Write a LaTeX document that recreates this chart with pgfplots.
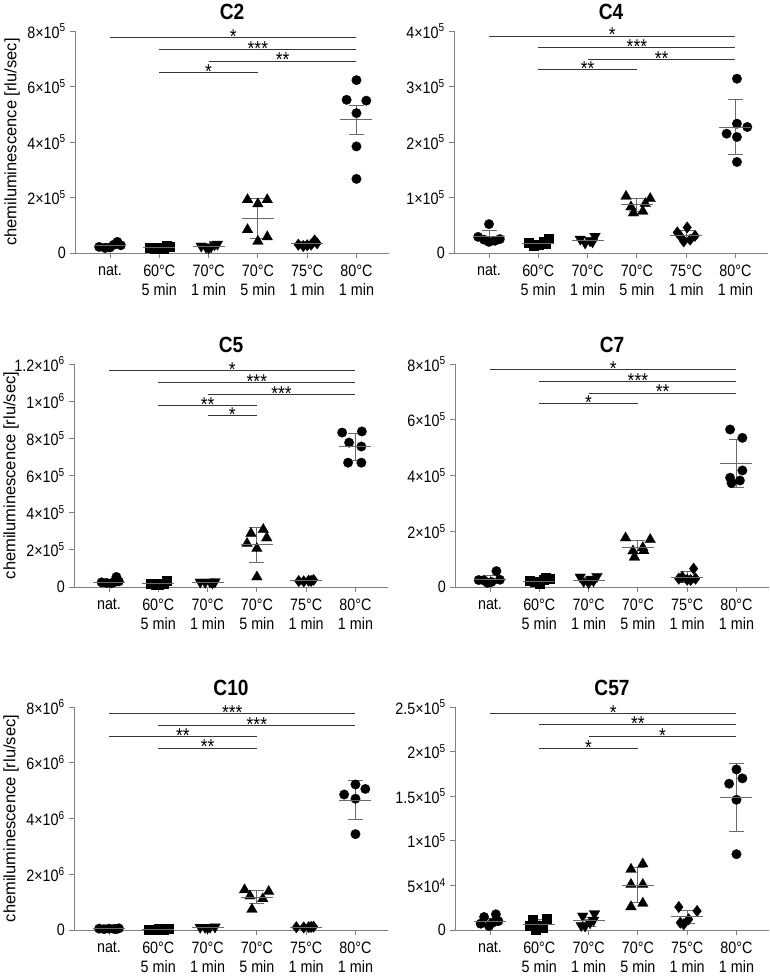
\documentclass[border=0pt]{standalone}
\usepackage{fontspec}
\setmainfont{Liberation Sans}[FakeStretch=0.87]
\newfontfamily\ylabfont{Liberation Sans}
\usepackage{pgfplots}
\pgfplotsset{compat=1.18}
\definecolor{axgray}{RGB}{128,128,128}
\definecolor{msgray}{RGB}{105,105,105}
\definecolor{sigc}{RGB}{55,55,55}
\newcommand{\lab}{\fontsize{16.5}{18.5}\selectfont}
\newcommand{\tn}[2]{#1×10\textsuperscript{#2}}
\newcommand{\sig}[5]{\addplot[sigl] coordinates {(#1,#4) (#2,#4)}; \node[sigs] at (axis cs:#3,#4) {#5};}
\tikzset{sigs/.style={font=\fontsize{20}{20}\selectfont, anchor=base, yshift=-6pt, inner sep=0pt, text=black}}
\pgfplotsset{
  base/.style={
    scale only axis, width=314pt, height=222pt,
    xmin=-0.71, xmax=5.66, ymin=0,
    axis lines=left, axis line style={-, axgray, line width=0.9pt},
    tick style={axgray, line width=0.9pt},
    tick align=outside, major tick length=5pt,
    xtick={0,1,2,3,4,5},
    xticklabels={nat., {60°C\\5 min}, {70°C\\1 min}, {70°C\\5 min}, {75°C\\1 min}, {80°C\\1 min}},
    xticklabel style={align=center, font=\lab, anchor=north, inner sep=0pt, yshift=-7pt},
    yticklabel style={font=\lab, inner sep=0pt, xshift=-4pt},
    scaled y ticks=false,
    title style={font=\bfseries\fontsize{22}{26}\selectfont, at={(0.5,1)}, anchor=base, yshift=5pt},
    ylabel style={font=\ylabfont\fontsize{16.5}{18}\selectfont, at={(axis description cs:-0.2,0.5)}, anchor=center},
    clip=false,
  },
  cpt/.style={only marks, mark=*, mark size=4.8pt, mark options={draw=black, fill=black, line width=0.2pt}},
  spt/.style={only marks, mark=square*, mark size=4.5pt, mark options={draw=black, fill=black, line width=0.2pt}},
  tpt/.style={only marks, mark=triangle*, mark size=6.2pt, mark options={draw=black, fill=black, line width=0.2pt}},
  ipt/.style={only marks, mark=triangle*, mark size=6.2pt, mark options={draw=black, fill=black, line width=0.2pt, rotate=180}},
  dpt/.style={only marks, mark=diamond*, mark size=5.8pt, mark options={draw=black, fill=black, line width=0.2pt}},
  msd/.style={only marks, mark=-, mark size=16pt, color=msgray, mark options={line width=0.9pt, color=msgray},
    error bars/.cd, y dir=both, y explicit, error bar style={msgray, line width=0.9pt},
    error mark=|, error mark options={msgray, mark size=7.5pt, line width=0.9pt}},
  sigl/.style={sigc, line width=0.9pt},
}
\begin{document}
\begin{tikzpicture}
\useasboundingbox (0,0) rectangle (769pt,976pt);
% ---------------- C2
\begin{axis}[base, at={(75pt,723pt)}, anchor=south west, ymax=8e5,
  ytick={0,2e5,4e5,6e5,8e5}, yticklabels={0,\tn{2}{5},\tn{4}{5},\tn{6}{5},\tn{8}{5}},
  title={C2}, ylabel={chemiluminescence [rlu/sec]}]
\addplot[cpt] coordinates {(-0.22,0.22e5) (-0.1,0.18e5) (0,0.2e5) (0.08,0.3e5) (0.15,0.4e5) (0.22,0.28e5)};
\addplot[spt] coordinates {(0.8,0.2e5) (0.9,0.15e5) (1,0.2e5) (1.08,0.17e5) (1.15,0.25e5) (1.2,0.22e5)};
\addplot[ipt] coordinates {(1.85,0.25e5) (1.95,0.2e5) (2.05,0.22e5) (2.12,0.3e5) (2.18,0.32e5) (2,0.18e5)};
\addplot[tpt] coordinates {(2.79,1.92e5) (3.19,1.92e5) (3,1.77e5) (2.79,0.84e5) (3.19,0.58e5) (3,0.42e5)};
\addplot[dpt] coordinates {(3.82,0.3e5) (3.92,0.25e5) (4,0.28e5) (4.08,0.3e5) (4.15,0.45e5) (4.2,0.35e5)};
\addplot[cpt] coordinates {(5,6.23e5) (4.8,5.52e5) (5.2,5.49e5) (5,5.04e5) (5,3.84e5) (5,2.67e5)};
\addplot[msd] table[row sep=\\, x=x, y=m, y error plus expr=\thisrow{h}-\thisrow{m}, y error minus expr=\thisrow{m}-\thisrow{l}]
 {x m h l\\ 0 0.26e5 0.34e5 0.18e5\\ 1 0.2e5 0.24e5 0.16e5\\ 2 0.24e5 0.29e5 0.19e5\\ 3 1.26e5 1.95e5 0.54e5\\ 4 0.33e5 0.4e5 0.26e5\\ 5 4.8e5 5.3e5 4.28e5\\};
\sig{0}{5}{2.5}{7.76e5}{*}
\sig{1}{5}{3}{7.35e5}{***}
\sig{2}{5}{3.5}{6.92e5}{**}
\sig{1}{3}{2}{6.5e5}{*}
\end{axis}
% ---------------- C4
\begin{axis}[base, at={(454pt,723pt)}, anchor=south west, ymax=4e5,
  ytick={0,1e5,2e5,3e5,4e5}, yticklabels={0,\tn{1}{5},\tn{2}{5},\tn{3}{5},\tn{4}{5}},
  title={C4}]
\addplot[cpt] coordinates {(0,0.52e5) (-0.22,0.29e5) (-0.1,0.24e5) (0,0.2e5) (0.12,0.22e5) (0.22,0.25e5)};
\addplot[spt] coordinates {(0.8,0.18e5) (0.9,0.13e5) (1,0.15e5) (1.1,0.2e5) (1.2,0.26e5) (1.15,0.17e5)};
\addplot[ipt] coordinates {(1.85,0.25e5) (1.95,0.18e5) (2.05,0.22e5) (2.15,0.3e5) (2.1,0.2e5)};
\addplot[tpt] coordinates {(2.78,1.02e5) (3.27,0.98e5) (3.17,0.89e5) (2.88,0.83e5) (3.12,0.75e5) (2.93,0.72e5)};
\addplot[dpt] coordinates {(4.02,0.46e5) (3.82,0.37e5) (4.18,0.31e5) (3.95,0.21e5) (4.08,0.24e5) (3.9,0.28e5)};
\addplot[cpt] coordinates {(5.03,3.14e5) (5.03,2.33e5) (5.24,2.27e5) (4.82,2.15e5) (5.03,2.09e5) (5.03,1.64e5)};
\addplot[msd] table[row sep=\\, x=x, y=m, y error plus expr=\thisrow{h}-\thisrow{m}, y error minus expr=\thisrow{m}-\thisrow{l}]
 {x m h l\\ 0 0.29e5 0.41e5 0.17e5\\ 1 0.18e5 0.23e5 0.13e5\\ 2 0.23e5 0.28e5 0.18e5\\ 3 0.87e5 0.98e5 0.75e5\\ 4 0.31e5 0.4e5 0.22e5\\ 5 2.27e5 2.77e5 1.77e5\\};
\sig{0}{5}{2.5}{3.91e5}{*}
\sig{1}{5}{3}{3.70e5}{***}
\sig{2}{5}{3.5}{3.49e5}{**}
\sig{1}{3}{2}{3.30e5}{**}
\end{axis}
% ---------------- C5
\begin{axis}[base, at={(74pt,389pt)}, anchor=south west, height=223pt, ymax=1.2e6,
  ytick={0,2e5,4e5,6e5,8e5,1e6,1.2e6}, yticklabels={0,\tn{2}{5},\tn{4}{5},\tn{6}{5},\tn{8}{5},\tn{1}{6},\tn{1.2}{6}},
  title={C5}, ylabel={chemiluminescence [rlu/sec]}]
\addplot[cpt] coordinates {(-0.15,0.25e5) (-0.05,0.22e5) (0.05,0.2e5) (0.1,0.25e5) (0.15,0.54e5) (0.2,0.3e5)};
\addplot[spt] coordinates {(0.85,0.18e5) (0.95,0.15e5) (1.05,0.2e5) (1.1,0.18e5) (1.17,0.36e5) (1,0.12e5)};
\addplot[ipt] coordinates {(1.85,0.27e5) (1.95,0.25e5) (2.05,0.27e5) (2.15,0.28e5) (2.1,0.22e5)};
\addplot[tpt] coordinates {(3.13,3.09e5) (2.88,2.88e5) (3.2,2.64e5) (2.8,2.34e5) (3,2.07e5) (3,0.54e5)};
\addplot[dpt] coordinates {(3.85,0.32e5) (3.95,0.3e5) (4.05,0.34e5) (4.15,0.38e5) (4.1,0.33e5)};
\addplot[cpt] coordinates {(4.73,8.31e5) (5.13,8.37e5) (4.87,7.77e5) (5.12,7.56e5) (4.85,6.69e5) (5.12,6.69e5)};
\addplot[msd] table[row sep=\\, x=x, y=m, y error plus expr=\thisrow{h}-\thisrow{m}, y error minus expr=\thisrow{m}-\thisrow{l}]
 {x m h l\\ 0 0.27e5 0.32e5 0.22e5\\ 1 0.2e5 0.26e5 0.14e5\\ 2 0.25e5 0.28e5 0.22e5\\ 3 2.28e5 3.2e5 1.31e5\\ 4 0.34e5 0.37e5 0.31e5\\ 5 7.56e5 8.28e5 6.8e5\\};
\sig{0}{5}{2.5}{11.66e5}{*}
\sig{1}{5}{3}{11.03e5}{***}
\sig{2}{5}{3.5}{10.38e5}{***}
\sig{1}{3}{2}{9.77e5}{**}
\sig{2}{3}{2.5}{9.21e5}{*}
\end{axis}
% ---------------- C7
\begin{axis}[base, at={(455pt,389pt)}, anchor=south west, height=223pt, ymax=8e5,
  ytick={0,2e5,4e5,6e5,8e5}, yticklabels={0,\tn{2}{5},\tn{4}{5},\tn{6}{5},\tn{8}{5}},
  title={C7}]
\addplot[cpt] coordinates {(0.13,0.57e5) (-0.13,0.24e5) (0.03,0.18e5) (0.2,0.26e5) (-0.23,0.25e5) (-0.05,0.15e5)};
\addplot[spt] coordinates {(1.13,0.32e5) (0.8,0.24e5) (1,0.12e5) (0.9,0.18e5) (1.08,0.28e5) (1.2,0.3e5)};
\addplot[ipt] coordinates {(1.83,0.36e5) (2.17,0.38e5) (1.9,0.2e5) (2,0.15e5) (2.1,0.22e5) (2.05,0.28e5)};
\addplot[tpt] coordinates {(2.75,1.76e5) (3.25,1.70e5) (3.1,1.41e5) (2.9,1.29e5) (3.12,1.3e5) (2.93,1.07e5)};
\addplot[dpt] coordinates {(4.13,0.66e5) (3.9,0.36e5) (4,0.26e5) (4.17,0.3e5) (3.83,0.3e5) (4.07,0.25e5)};
\addplot[cpt] coordinates {(4.87,5.65e5) (5.12,5.35e5) (5.12,4.18e5) (4.87,3.92e5) (5.07,3.82e5) (4.9,3.73e5)};
\addplot[msd] table[row sep=\\, x=x, y=m, y error plus expr=\thisrow{h}-\thisrow{m}, y error minus expr=\thisrow{m}-\thisrow{l}]
 {x m h l\\ 0 0.26e5 0.41e5 0.11e5\\ 1 0.2e5 0.3e5 0.1e5\\ 2 0.24e5 0.34e5 0.14e5\\ 3 1.43e5 1.67e5 1.19e5\\ 4 0.36e5 0.54e5 0.18e5\\ 5 4.42e5 5.28e5 3.58e5\\};
\sig{0}{5}{2.5}{7.80e5}{*}
\sig{1}{5}{3}{7.38e5}{***}
\sig{2}{5}{3.5}{6.96e5}{**}
\sig{1}{3}{2}{6.57e5}{*}
\end{axis}
% ---------------- C10
\begin{axis}[base, at={(74pt,46pt)}, anchor=south west, height=223pt, ymax=8e6,
  ytick={0,2e6,4e6,6e6,8e6}, yticklabels={0,\tn{2}{6},\tn{4}{6},\tn{6}{6},\tn{8}{6}},
  title={C10}, ylabel={chemiluminescence [rlu/sec]}]
\addplot[cpt] coordinates {(-0.2,0.05e6) (-0.1,0.03e6) (0,0.05e6) (0.1,0.04e6) (0.2,0.06e6) (0.15,0.03e6)};
\addplot[spt] coordinates {(0.8,0.03e6) (0.9,0.02e6) (1,0.04e6) (1.1,0.03e6) (1.2,0.05e6) (1.05,0.01e6)};
\addplot[ipt] coordinates {(1.85,0.1e6) (1.95,0.09e6) (2.05,0.1e6) (2.15,0.11e6) (2,0.08e6)};
\addplot[tpt] coordinates {(2.75,1.44e6) (3.24,1.38e6) (2.86,1.22e6) (3.12,1.12e6) (2.9,0.74e6)};
\addplot[dpt] coordinates {(3.8,0.1e6) (3.95,0.09e6) (4.05,0.1e6) (4.15,0.12e6) (4.1,0.11e6)};
\addplot[cpt] coordinates {(5,5.22e6) (5.2,5.06e6) (4.77,4.86e6) (5,4.71e6) (5,3.44e6)};
\addplot[msd] table[row sep=\\, x=x, y=m, y error plus expr=\thisrow{h}-\thisrow{m}, y error minus expr=\thisrow{m}-\thisrow{l}]
 {x m h l\\ 0 0.05e6 0.06e6 0.04e6\\ 1 0.03e6 0.04e6 0.02e6\\ 2 0.1e6 0.11e6 0.09e6\\ 3 1.18e6 1.41e6 0.94e6\\ 4 0.1e6 0.11e6 0.09e6\\ 5 4.65e6 5.36e6 3.96e6\\};
\sig{0}{5}{2.5}{7.77e6}{***}
\sig{1}{5}{3}{7.35e6}{***}
\sig{0}{3}{1.5}{6.94e6}{**}
\sig{1}{3}{2}{6.53e6}{**}
\end{axis}
% ---------------- C57
\begin{axis}[base, at={(455pt,46pt)}, anchor=south west, height=223pt, ymax=2.5e5,
  ytick={0,5e4,1e5,1.5e5,2e5,2.5e5}, yticklabels={0,\tn{5}{4},\tn{1}{5},\tn{1.5}{5},\tn{2}{5},\tn{2.5}{5}},
  title={C57}]
\addplot[cpt] coordinates {(-0.12,1.46e4) (0.12,1.76e4) (-0.19,0.71e4) (-0.02,0.45e4) (0.17,1.0e4) (0.05,0.82e4)};
\addplot[spt] coordinates {(0.86,1.2e4) (1.14,1.3e4) (0.8,0.5e4) (0.93,0.07e4) (1.07,0.3e4) (1,0.5e4)};
\addplot[ipt] coordinates {(1.88,1.57e4) (2.12,1.83e4) (1.93,0.45e4) (2.03,0.82e4) (2.1,1.1e4) (1.85,0.5e4)};
\addplot[tpt] coordinates {(2.86,6.8e4) (3.1,7.4e4) (2.86,5.1e4) (3.1,5.1e4) (2.86,2.6e4) (3.1,3.0e4)};
\addplot[dpt] coordinates {(3.83,2.58e4) (4.2,2.13e4) (3.86,0.82e4) (4.03,1.2e4) (3.93,0.64e4)};
\addplot[cpt] coordinates {(5,18.0e4) (5.12,17.0e4) (4.85,16.4e4) (5,14.6e4) (5,8.5e4)};
\addplot[msd] table[row sep=\\, x=x, y=m, y error plus expr=\thisrow{h}-\thisrow{m}, y error minus expr=\thisrow{m}-\thisrow{l}]
 {x m h l\\ 0 0.93e4 1.35e4 0.5e4\\ 1 0.64e4 1.14e4 0.14e4\\ 2 1.05e4 1.46e4 0.45e4\\ 3 5.0e4 7.0e4 3.1e4\\ 4 1.47e4 2.2e4 0.7e4\\ 5 14.9e4 18.7e4 11.1e4\\};
\sig{0}{5}{2.5}{24.3e4}{*}
\sig{1}{5}{3}{23.0e4}{**}
\sig{2}{5}{3.5}{21.7e4}{*}
\sig{1}{3}{2}{20.4e4}{*}
\end{axis}
\end{tikzpicture}
\end{document}
